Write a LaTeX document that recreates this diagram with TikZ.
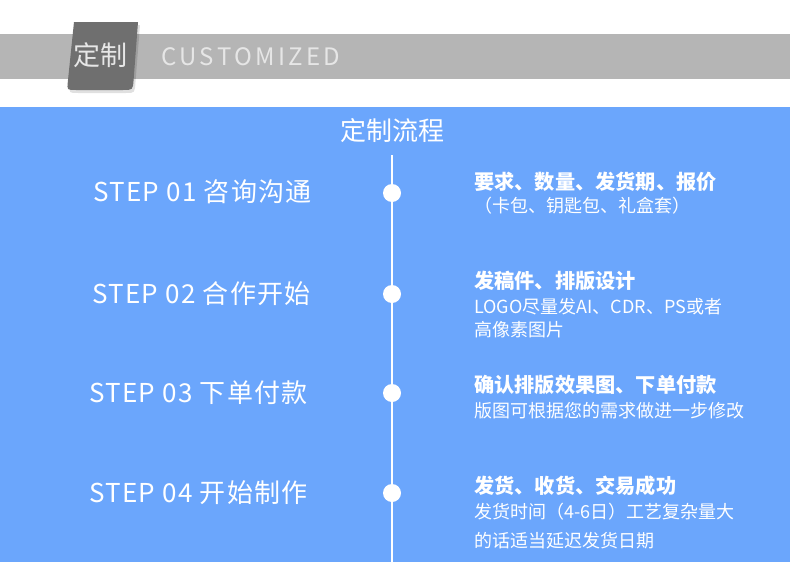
\documentclass[tikz,border=0pt]{standalone}
\usepackage{fontspec}
\setmainfont{Noto Sans CJK SC}
\newfontfamily\spacedfont{Noto Sans CJK SC}[LetterSpace=14]
\newfontfamily\stepfont{Noto Sans CJK SC}[LetterSpace=5]
\definecolor{bandgray}{HTML}{B5B5B5}
\definecolor{tabgray}{HTML}{6F6F6F}
\definecolor{panelblue}{HTML}{6BA6FC}
\definecolor{lighttext}{HTML}{E6E6E6}
\tikzset{
  steplabel/.style={anchor=west, inner sep=0pt, text=white, font=\stepfont\fontsize{26}{30}\selectfont},
  headline/.style={anchor=west, inner sep=0pt, text=white, font=\fontsize{20.2}{23}\selectfont\bfseries},
  subline/.style={anchor=west, inner sep=0pt, text=white, font=\fontsize{18}{21}\selectfont},
  dot/.style={circle, fill=white, minimum size=18pt, inner sep=0pt},
}
\begin{document}
\begin{tikzpicture}[x=1pt,y=-1pt]
\useasboundingbox (0,0) rectangle (790,562);
\fill[white] (0,0) rectangle (790,562);
% header band
\fill[bandgray] (0,34) rectangle (790,79);
% tab shadow
\fill[black,opacity=0.12] (76,25) -- (140,25) -- (135.5,82) .. controls (134.8,93) .. (126,93) -- (78,93) .. controls (69,93) .. (70,85) -- cycle;
% tab
\fill[tabgray] (74,22) -- (138,22) -- (133.6,80) .. controls (132.8,90) .. (123,90) -- (76,90) .. controls (67,90) .. (67.8,82) -- cycle;
\node[inner sep=0pt, text=lighttext, font=\fontsize{27}{30}\selectfont] (tabtext) at (100.5,55) {定制};
\node[anchor=west, inner sep=0pt, text=lighttext, font=\spacedfont\fontsize{24}{28}\selectfont] (custom) at (161,57) {CUSTOMIZED};
% blue panel
\fill[panelblue] (0,107) rectangle (790,562);
\node[inner sep=0pt, text=white, font=\fontsize{26}{30}\selectfont] (title) at (392,131) {定制流程};
% timeline
\coordinate (linetop) at (392,155);
\coordinate (linebot) at (392,562);
\draw[white, line width=1.5pt] (linetop) -- (linebot);
\node[dot] (d1) at (392,193) {};
\node[dot] (d2) at (392,294) {};
\node[dot] (d3) at (392,393) {};
\node[dot] (d4) at (392,493) {};
% left labels
\node[steplabel] (s1) at (93,192) {STEP 01 咨询沟通};
\node[steplabel] (s2) at (92,294) {STEP 02 合作开始};
\node[steplabel] (s3) at (89,393) {STEP 03 下单付款};
\node[steplabel] (s4) at (89,493) {STEP 04 开始制作};
% right texts
\node[headline] (h1) at (474,182) {要求、数量、发货期、报价};
\node[subline] (t1) at (474,206) {（卡包、钥匙包、礼盒套）};
\node[headline] (h2) at (474,281) {发稿件、排版设计};
\node[subline] (t2a) at (474,307) {LOGO尽量发AI、CDR、PS或者};
\node[subline] (t2b) at (474,330) {高像素图片};
\node[headline] (h3) at (474,385) {确认排版效果图、下单付款};
\node[subline] (t3) at (474,411) {版图可根据您的需求做进一步修改};
\node[headline] (h4) at (474,486) {发货、收货、交易成功};
\node[subline] (t4a) at (474,512) {发货时间（4-6日）工艺复杂量大};
\node[subline] (t4b) at (474,541) {的话适当延迟发货日期};
\end{tikzpicture}
\end{document}
